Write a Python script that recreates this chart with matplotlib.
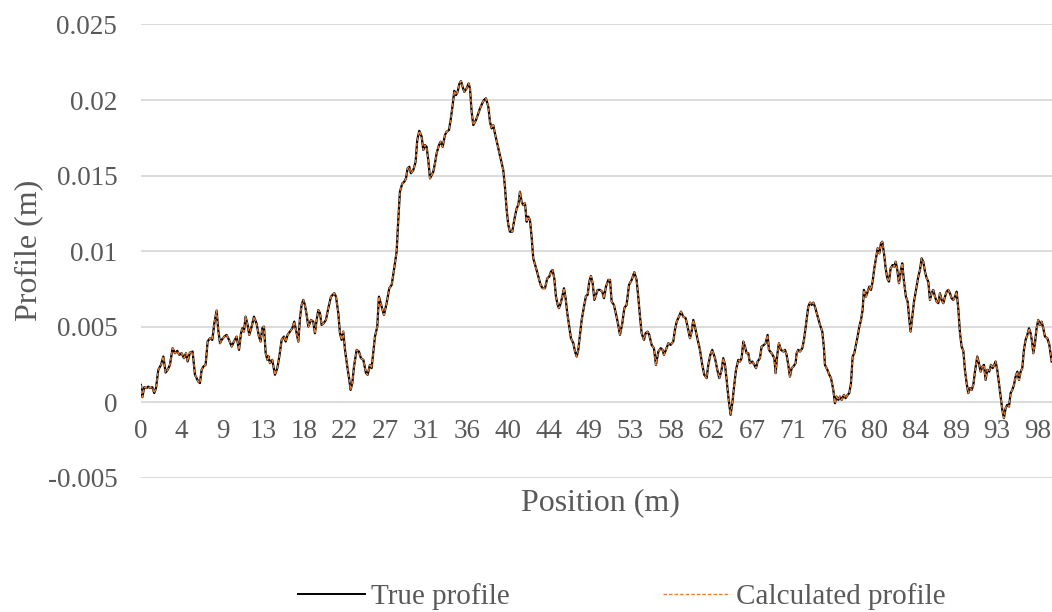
import numpy as np
import matplotlib
matplotlib.use("Agg")
import matplotlib.pyplot as plt
from matplotlib.lines import Line2D

# values (position in m, profile in mm)
position_m = [
    0.00, 0.15, 0.36, 0.62, 0.80, 0.98, 1.24, 1.45, 1.64, 1.89, 2.18, 2.44, 2.69, 2.91, 3.16,
    3.45, 3.71, 3.96, 4.18, 4.43, 4.69, 4.91, 5.09, 5.34, 5.63, 5.89, 6.25, 6.43, 6.62, 6.80,
    7.05, 7.27, 7.52, 7.78, 8.00, 8.25, 8.43, 8.62, 8.80, 9.09, 9.34, 9.60, 9.89, 10.14, 10.43,
    10.69, 10.91, 11.05, 11.23, 11.41, 11.63, 11.81, 12.07, 12.32, 12.61,
    12.87, 13.05, 13.23, 13.41, 13.60, 13.78, 13.89, 14.07, 14.32, 14.61, 14.87, 15.09, 15.34,
    15.59, 15.78, 15.99, 16.25, 16.50, 16.72, 16.98, 17.16, 17.34, 17.52, 17.70, 17.88, 18.07,
    18.25, 18.54, 18.79, 18.97, 19.19, 19.34, 19.52, 19.70, 19.92, 20.17, 20.43, 20.72, 21.08,
    21.27, 21.52, 21.70, 21.88, 22.06, 22.25, 22.50, 22.72, 22.86, 23.05, 23.23, 23.52, 23.77,
    23.99, 24.25, 24.54, 24.72, 24.97, 25.15, 25.34, 25.52, 25.77, 25.95,
    26.25, 26.50, 26.79, 27.08, 27.34, 27.59, 27.88, 28.06, 28.24, 28.50, 28.72, 28.90, 29.08,
    29.26, 29.44, 29.70, 29.95, 30.13, 30.35, 30.61, 30.79, 30.97, 31.15, 31.33, 31.52, 31.70,
    31.88, 32.06, 32.24, 32.50, 32.68, 32.90, 33.15, 33.33, 33.59, 33.77, 33.99, 34.17, 34.35,
    34.53, 34.71, 34.90, 35.08, 35.26, 35.51, 35.73, 35.88, 36.06, 36.24, 36.53, 36.79, 36.97,
    37.22, 37.40, 37.62, 37.88, 38.06, 38.24, 38.42, 38.60,
    39.51, 39.69, 39.88, 40.06, 40.24, 40.49, 40.71, 40.97, 41.15, 41.33, 41.51, 41.69, 41.88,
    42.06, 42.24, 42.42, 42.60, 42.78, 43.04, 43.33, 43.58, 43.80, 44.06, 44.31, 44.53, 44.71,
    44.89, 45.07, 45.26, 45.44, 45.58, 45.77, 45.95, 46.13, 46.31, 46.49, 46.71, 46.89, 47.15,
    47.33, 47.51, 47.69, 47.87, 48.06, 48.31, 48.53, 48.71, 48.89, 49.07, 49.26, 49.44, 49.62,
    49.80, 50.05, 50.31, 50.49, 50.71, 50.96, 51.15, 51.33, 51.58,
    51.94, 52.24, 52.49, 52.71, 52.96, 53.22, 53.51, 53.80, 54.05, 54.23, 54.42, 54.60, 54.85,
    55.03, 55.25, 55.43, 55.69, 55.94, 56.16, 56.42, 56.67, 56.89, 57.03, 57.25, 57.51, 57.76,
    58.05, 58.23, 58.42, 58.67, 58.89, 59.14, 59.40, 59.61, 59.87, 60.05, 60.23, 60.41, 60.67,
    60.96, 61.21, 61.43, 61.69, 61.87, 62.09, 62.30, 62.60, 62.85, 63.07, 63.32, 63.50, 63.69,
    63.87,
    64.05, 64.30, 64.49, 64.70, 64.89, 65.14, 65.32, 65.50, 65.69, 65.87, 66.05, 66.23, 66.41,
    66.67, 66.88, 67.07, 67.25, 67.50, 67.68, 67.94, 68.12, 68.34, 68.48, 68.77, 69.07, 69.21,
    69.39, 69.57, 69.79, 70.05, 70.23, 70.41, 70.59, 70.77, 70.96, 71.14, 71.39, 71.50, 71.68,
    71.87, 72.12, 72.30, 72.52, 72.77, 72.96, 73.14, 73.32, 73.50, 73.75, 74.05, 74.30, 74.48,
    74.59, 74.85, 75.06, 75.25, 75.50, 75.68, 75.86, 76.05, 76.23, 76.41, 76.66, 76.84, 77.06,
    77.24,
    77.43, 77.61, 77.79, 77.97, 78.15, 78.34, 78.52, 78.70, 78.84, 79.06, 79.24, 79.43, 79.61,
    79.79, 79.97, 80.15, 80.34, 80.52, 80.70, 80.84, 81.03, 81.21, 81.39, 81.57, 81.75, 81.97,
    82.15, 82.30, 82.48, 82.66, 82.88, 83.02, 83.21, 83.42, 83.61, 83.79, 83.93, 84.12, 84.30,
    84.52, 84.77, 84.95, 85.13, 85.31, 85.50, 85.68, 85.86, 86.04, 86.22, 86.40, 86.59, 86.77,
    86.95, 87.13, 87.31, 87.50, 87.68, 87.86, 88.04, 88.22, 88.40, 88.59, 88.77, 88.95, 89.13,
    89.31, 89.49, 89.68, 89.86,
    90.04, 90.22, 90.40, 90.59, 90.77, 90.95, 91.20, 91.38, 91.57, 91.75, 91.93, 92.11, 92.29,
    92.51, 92.69, 92.88, 93.06, 93.20, 93.38, 93.57, 93.75, 93.93, 94.11, 94.29, 94.47, 94.66,
    94.84, 95.02, 95.20, 95.38, 95.57, 95.75, 95.93, 96.11, 96.29, 96.47, 96.66, 96.84, 97.02,
    97.20, 97.31, 97.49, 97.67, 97.85, 98.04, 98.22, 98.40, 98.58, 98.84, 99.06, 99.31,
]

true_profile_mm = [
    1.14, 0.33, 0.99, 0.93, 1.03, 0.93, 0.99, 0.60, 0.93, 2.14, 2.47, 3.02, 1.96, 2.14, 2.47,
    3.57, 3.24, 3.39, 3.13, 3.24, 2.91, 3.24, 2.69, 3.28, 3.35, 1.81, 1.36, 1.26, 2.14, 2.35,
    2.47, 4.01, 4.23, 4.12, 5.22, 6.06, 4.78, 3.90, 4.12, 4.34, 4.45, 4.12, 3.68, 4.01, 4.34,
    3.46, 4.56, 4.89, 4.67, 5.66, 5.11, 4.45, 5.00, 5.66, 5.20,
    4.34, 4.01, 4.89, 5.00, 3.24, 2.80, 3.06, 2.58, 2.80, 1.81, 2.25, 3.02, 4.12,
    4.34, 4.01, 4.45, 4.67, 4.89, 5.33, 4.56, 4.01, 5.56, 6.44, 6.77, 6.44, 5.77,
    5.00, 5.44, 5.33, 4.56, 5.56, 6.10, 5.89, 5.11, 5.22, 5.44, 6.22, 6.98, 7.21,
    6.98, 5.89, 4.56, 4.12, 4.67, 3.46, 2.35, 1.47, 0.81, 1.26, 2.35, 3.46, 3.35,
    2.91, 2.80, 1.92, 1.81, 2.47, 2.25, 3.35, 4.34, 5.00, 6.98,
    6.32, 5.77, 6.55, 7.54, 7.76, 8.75, 9.96, 12.06, 13.93, 14.48, 14.59, 14.81, 15.48,
    15.58, 15.15, 15.36, 15.91, 17.35, 17.96, 17.57, 16.69, 17.02, 16.90, 16.03, 14.81, 15.03,
    15.25, 15.81, 16.47, 17.02, 17.24, 16.90, 17.68, 17.90, 18.01, 18.67, 19.66, 20.61, 20.32,
    20.54, 21.05, 21.25, 20.87, 20.54, 20.77, 21.10, 20.77, 19.22, 18.34, 18.67, 19.11, 19.44,
    19.78, 20.00, 20.11, 19.55, 18.56, 18.12, 18.34, 17.79,
    15.36, 14.26, 12.72, 11.73, 11.28, 11.28, 12.06, 12.83, 13.05, 13.93, 13.27, 13.05, 13.16,
    11.94, 12.28, 12.06, 10.95, 9.52, 8.97, 8.31, 7.76, 7.54, 7.54, 8.20, 8.31, 8.64,
    8.75, 8.20, 6.98, 6.44, 6.22, 6.55, 6.98, 7.54, 6.88, 5.89, 5.00, 4.23, 3.90,
    3.35, 3.02, 3.46, 4.45, 5.44, 6.32, 7.03, 7.10, 7.98, 8.35, 7.87, 6.77, 7.10,
    7.43, 7.43, 7.31, 6.88, 7.65, 8.09, 8.09, 6.65, 6.44,
    5.44, 4.45, 5.22, 6.22, 6.44, 7.76, 8.09, 8.60, 8.09, 6.98, 5.66, 4.56, 4.12,
    4.56, 4.67, 4.45, 3.79, 3.57, 2.47, 3.35, 3.57, 3.46, 3.13, 3.46, 3.90, 3.79,
    4.01, 4.78, 5.33, 5.66, 5.99, 5.66, 5.56, 5.00, 4.23, 4.67, 5.44, 5.00, 4.23,
    3.46, 2.47, 1.81, 1.59, 2.47, 3.13, 3.46, 2.91, 2.14, 1.59, 2.14, 2.91, 2.47,
    1.47,
    0.37, -0.84, -0.07, 1.14, 2.14, 2.80, 2.69, 2.91, 4.01, 3.68, 3.24, 3.24, 2.58,
    2.69, 2.47, 2.25, 2.69, 2.91, 3.68, 3.79, 3.90, 4.45, 3.46, 3.24, 2.91, 1.92,
    3.13, 3.90, 3.46, 3.35, 3.46, 3.13, 2.47, 1.69, 2.25, 2.35, 2.58, 3.24, 3.46,
    3.35, 3.57, 4.12, 5.11, 6.32, 6.59, 6.44, 6.59, 6.32, 5.77, 5.11, 4.67, 3.57,
    2.47, 2.14, 1.81, 1.59, 0.81, -0.07, 0.37, 0.15, 0.37, 0.15, 0.48, 0.26, 0.48,
    0.60,
    1.26, 3.02, 3.24, 3.79, 4.34, 5.00, 5.44, 6.10, 7.43, 6.98, 7.31, 7.65, 7.43,
    7.98, 8.86, 9.52, 10.19, 9.85, 10.52, 10.62, 9.85, 8.86, 8.20, 7.98, 8.86, 9.08,
    8.97, 9.30, 8.75, 7.87, 8.75, 9.19, 7.98, 6.98, 6.65, 5.44, 4.67, 5.66, 6.65,
    7.43, 8.31, 8.75, 9.52, 9.30, 8.64, 8.20, 7.98, 6.77, 7.21, 7.43, 6.98, 6.65,
    6.55, 7.21, 6.77, 6.55, 6.98, 7.31, 7.43, 7.21, 6.88, 6.77, 6.98, 7.31, 6.20,
    4.62, 3.68, 3.40, 2.10,
    1.26, 0.60, 0.93, 0.81, 1.14, 2.02, 3.02, 2.58, 2.02, 2.35, 2.47, 1.47, 2.14,
    2.02, 2.47, 2.25, 2.47, 2.69, 2.14, 1.26, 0.37, -0.51, -1.06, -0.40, -0.18, -0.29,
    0.60, 0.81, 1.14, 1.69, 2.02, 1.47, 2.02, 2.25, 3.46, 4.12, 4.45, 4.89, 4.56,
    3.90, 3.24, 3.90, 4.89, 5.44, 5.11, 5.33, 4.89, 4.34, 4.23, 3.79, 2.69,
]

# the calculated profile lies on top of the true one in the picture
calculated_profile_mm = list(true_profile_mm)

# category axis labels (one every 4.44 m)
tick_positions = [k * 40 / 9 for k in range(23)]
tick_labels = ["0", "4", "9", "13", "18", "22", "27", "31", "36", "40", "44", "49",
               "53", "58", "62", "67", "71", "76", "80", "84", "89", "93", "98"]
y_ticks = [-0.005, 0, 0.005, 0.01, 0.015, 0.02, 0.025]
y_tick_labels = ["-0.005", "0", "0.005", "0.01", "0.015", "0.02", "0.025"]

matplotlib.rcParams['font.family'] = 'Liberation Serif'
grey = '#595959'

fig = plt.figure(figsize=(10.52, 6.12), dpi=100)
ax = fig.add_axes([0.134, 0.2195, 0.866, 0.7405])

x = np.array(position_m)
ax.plot(x, np.array(true_profile_mm) / 1000, color='black', lw=1.6, label='True profile', zorder=3)
ax.plot(x, np.array(calculated_profile_mm) / 1000, color='#ED7D31', lw=1.0,
        linestyle=(0, (2.5, 1.5)), label='Calculated profile', zorder=4)

ax.set_xlim(0, 99.35)
ax.set_ylim(-0.005, 0.025)
ax.set_yticks(y_ticks)
ax.set_yticklabels(y_tick_labels)
ax.set_xticks(tick_positions)
ax.set_xticklabels(tick_labels)
ax.yaxis.grid(True, color='#D9D9D9', lw=1.3)
ax.set_axisbelow(True)
for s in ax.spines.values():
    s.set_visible(False)
ax.spines['bottom'].set_position(('data', 0))
ax.tick_params(axis='both', length=0, colors=grey, labelsize=19.5)
ax.tick_params(axis='x', pad=12)
ax.tick_params(axis='y', pad=17)

fig.text(0.5705, 1 - 503 / 612, 'Position (m)', ha='center', va='center', fontsize=23, color=grey)
fig.text(0.027, 1 - 250 / 612, 'Profile (m)', ha='center', va='center', rotation=90,
         fontsize=23, color=grey)

handles = [Line2D([], [], color='black', lw=1.4),
           Line2D([], [], color='#ED7D31', lw=1.0, linestyle=(0, (2.5, 1.5)))]
fig.legend(handles, ['True profile', 'Calculated profile'], loc='center',
           bbox_to_anchor=(0.591, 0.025), ncol=2, frameon=False, fontsize=21,
           handlelength=2.3, handletextpad=0.2, columnspacing=5.25, labelcolor=grey)

fig.savefig("out.png", dpi=100)
